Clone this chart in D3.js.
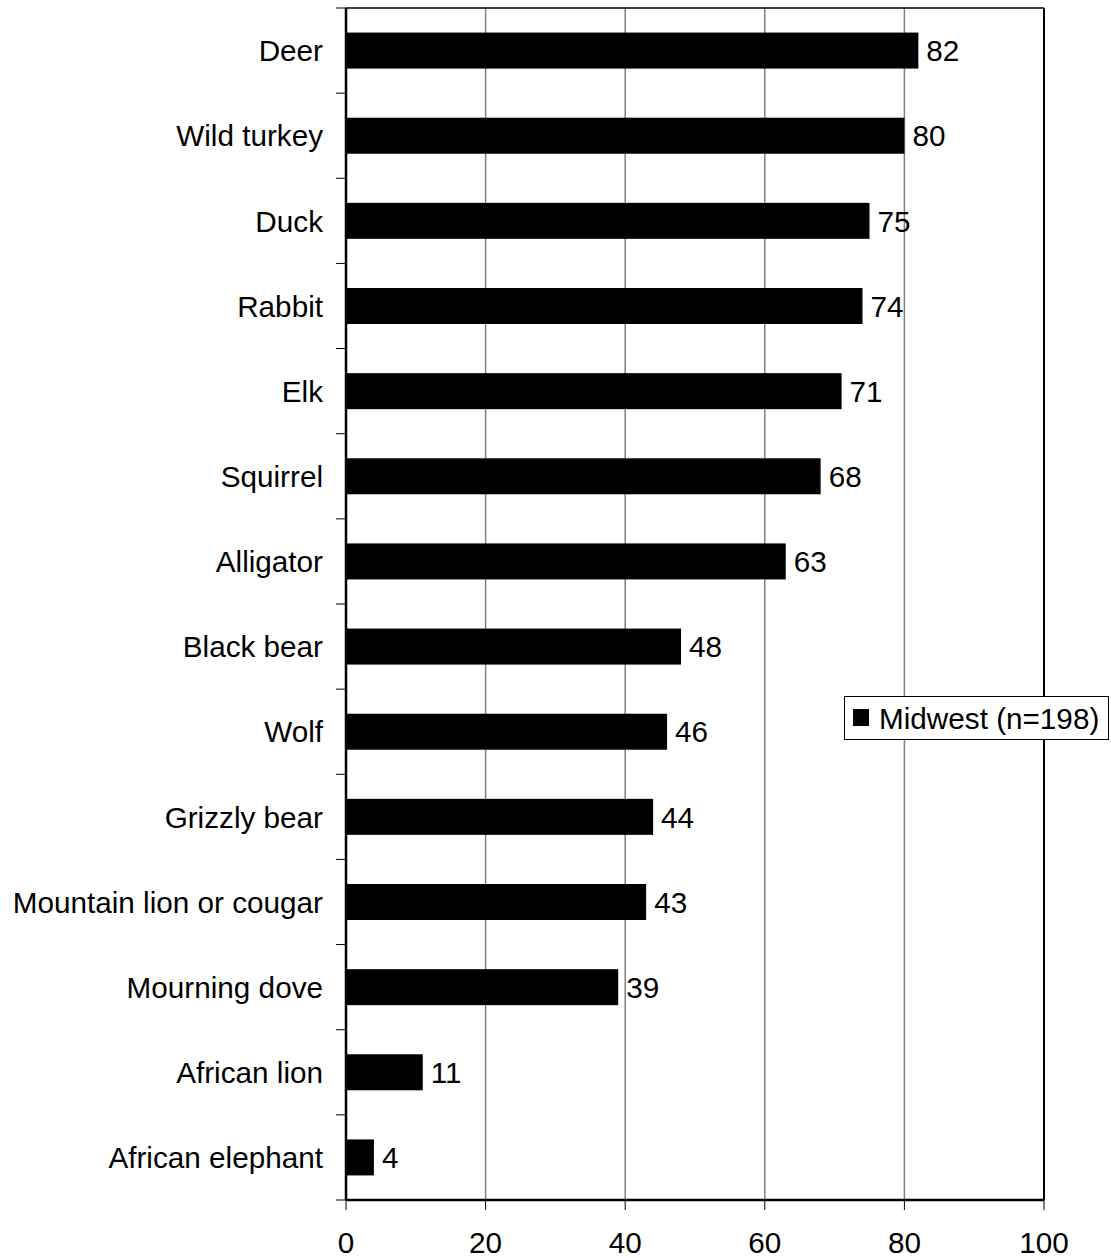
<!DOCTYPE html>
<html><head><meta charset="utf-8">
<script src="https://cdn.jsdelivr.net/npm/d3@7"></script>
<style>body{margin:0;background:#fff}svg{display:block}text{font-family:Arial,"Liberation Sans",sans-serif;fill:#000}</style>
</head><body>
<script>
const categories = ["Deer","Wild turkey","Duck","Rabbit","Elk","Squirrel","Alligator","Black bear","Wolf","Grizzly bear","Mountain lion or cougar","Mourning dove","African lion","African elephant"];
const values = [82,80,75,74,71,68,63,48,46,44,43,39,11,4];
const xTicks = [0,20,40,60,80,100];
const seriesName = "Midwest (n=198)";

const W=1111,H=1258,FS=29.7;
const L=346,R=1044,T=8,B=1200;
const svg=d3.select("body").append("svg").attr("width",W).attr("height",H);
const x=d3.scaleLinear().domain([0,100]).range([L,R]);
const y=d3.scaleBand().domain(categories).range([T,B]);
const step=y.step(), bh=36;

// gridlines
svg.append("g").selectAll("line").data(xTicks.filter(d=>d>0&&d<100)).join("line")
  .attr("x1",d=>x(d)).attr("x2",d=>x(d)).attr("y1",T).attr("y2",B)
  .attr("stroke","#808080").attr("stroke-width",1.5);
// frame top/right
svg.append("line").attr("x1",L).attr("x2",R).attr("y1",T).attr("y2",T).attr("stroke","#000").attr("stroke-width",1.5);
svg.append("line").attr("x1",R).attr("x2",R).attr("y1",T).attr("y2",B).attr("stroke","#000").attr("stroke-width",2);

// bars
svg.append("g").selectAll("rect").data(values).join("rect")
  .attr("x",x(0)).attr("y",(d,i)=>y(categories[i])+step/2-bh/2)
  .attr("width",d=>x(d)-x(0)).attr("height",bh).attr("fill","#000");
// value labels
svg.append("g").selectAll("text").data(values).join("text")
  .attr("x",d=>x(d)+8).attr("y",(d,i)=>y(categories[i])+step/2)
  .attr("dy","0.36em").attr("font-size",FS).text(d=>d);

// y axis
const ya=svg.append("g").attr("transform",`translate(${L},0)`);
ya.append("line").attr("x1",0).attr("x2",0).attr("y1",T).attr("y2",B).attr("stroke","#000").attr("stroke-width",2.5);
const bounds=categories.map(c=>y(c)).concat([B]);
ya.selectAll("line.t").data(bounds).join("line").attr("class","t")
  .attr("x1",-10).attr("x2",0).attr("y1",d=>d).attr("y2",d=>d).attr("stroke","#000").attr("stroke-width",1);
ya.selectAll("text").data(categories).join("text")
  .attr("x",-23).attr("y",c=>y(c)+step/2).attr("dy","0.36em")
  .attr("text-anchor","end").attr("font-size",FS).text(c=>c);

// x axis
const xa=svg.append("g").attr("transform",`translate(0,${B})`);
xa.append("line").attr("x1",L).attr("x2",R).attr("y1",0).attr("y2",0).attr("stroke","#000").attr("stroke-width",2.5);
xa.selectAll("line.t").data(xTicks).join("line").attr("class","t")
  .attr("x1",d=>x(d)).attr("x2",d=>x(d)).attr("y1",0).attr("y2",10).attr("stroke","#000").attr("stroke-width",1);
xa.selectAll("text").data(xTicks).join("text")
  .attr("x",d=>x(d)).attr("y",53).attr("text-anchor","middle").attr("font-size",FS).text(d=>d);

// legend
const lg=svg.append("g");
lg.append("rect").attr("x",844.5).attr("y",696.5).attr("width",264).attr("height",43)
  .attr("fill","#fff").attr("stroke","#000").attr("stroke-width",1);
lg.append("rect").attr("x",853).attr("y",709).attr("width",16).attr("height",17).attr("fill","#000");
lg.append("text").attr("x",879).attr("y",718).attr("dy","0.36em").attr("font-size",FS).text(seriesName);
</script>
</body></html>
